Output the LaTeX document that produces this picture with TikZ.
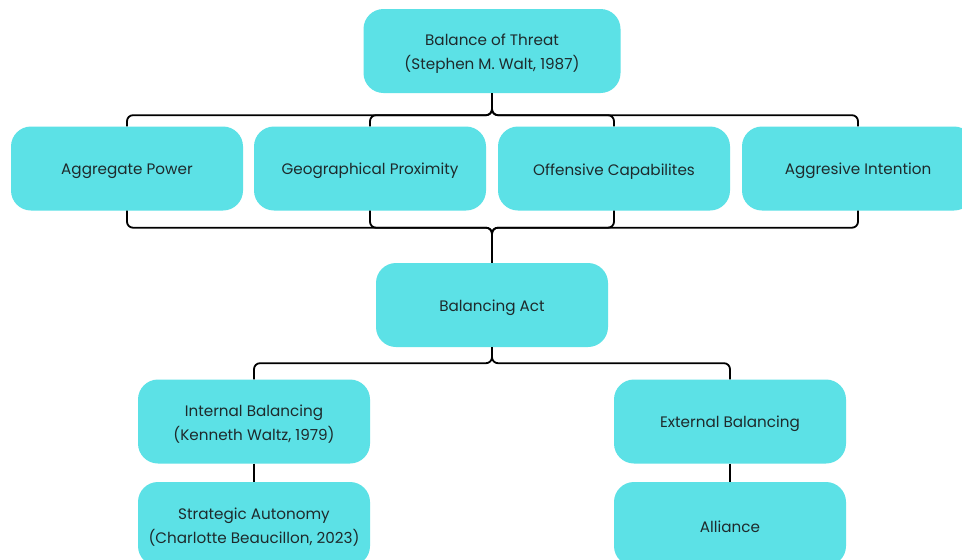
\documentclass[tikz,border=0pt]{standalone}
\usepackage{fontspec}
\setmainfont{Poppins}
\definecolor{boxcyan}{HTML}{5CE1E6}
\definecolor{txt}{HTML}{1E2A2C}
\newcommand{\toplift}{\rule{0pt}{17pt}}
\begin{document}
\begin{tikzpicture}[x=1pt,y=1pt,
  box/.style={rectangle, rounded corners=20pt, fill=boxcyan, minimum width=232pt, minimum height=84pt, align=center, text=txt, font=\fontsize{15.2}{24}\selectfont, inner sep=0pt, execute at begin node={\toplift}},
  conn/.style={draw=black, line width=1.8pt, rounded corners=6pt}]
\useasboundingbox (0,0) rectangle (962,-560);
\clip (0,0) rectangle (962,-560);
\fill[white] (0,0) rectangle (962,-560);
\node[box, minimum width=257pt] (top) at (492,-51) {\toplift Balance of Threat\\(Stephen M. Walt, 1987)};
\node[box] (agg) at (127,-168.5) {Aggregate Power};
\node[box] (geo) at (370,-168.5) {Geographical Proximity};
\node[box] (off) at (614,-168.5) {Offensive Capabilites};
\node[box] (int) at (858,-168.5) {Aggresive Intention};
\node[box] (bal) at (492,-305) {Balancing Act};
\node[box] (inb) at (254,-421.5) {\toplift Internal Balancing\\(Kenneth Waltz, 1979)};
\node[box] (exb) at (730,-421.5) {External Balancing};
\node[box] (sta) at (254,-524) {\toplift Strategic Autonomy\\(Charlotte Beaucillon, 2023)};
\node[box] (all) at (730,-524) {Alliance};
\foreach \c in {agg,geo,off,int}{
  \draw[conn] (top.south) -- ++(0,-22) -| (\c.north);
  \draw[conn] (\c.south) -- ++(0,-17) -| (bal.north);
}
\draw[conn] (bal.south) -- ++(0,-16) -| (inb.north);
\draw[conn] (bal.south) -- ++(0,-16) -| (exb.north);
\draw[conn] (inb.south) -- (sta.north);
\draw[conn] (exb.south) -- (all.north);
\end{tikzpicture}
\end{document}
